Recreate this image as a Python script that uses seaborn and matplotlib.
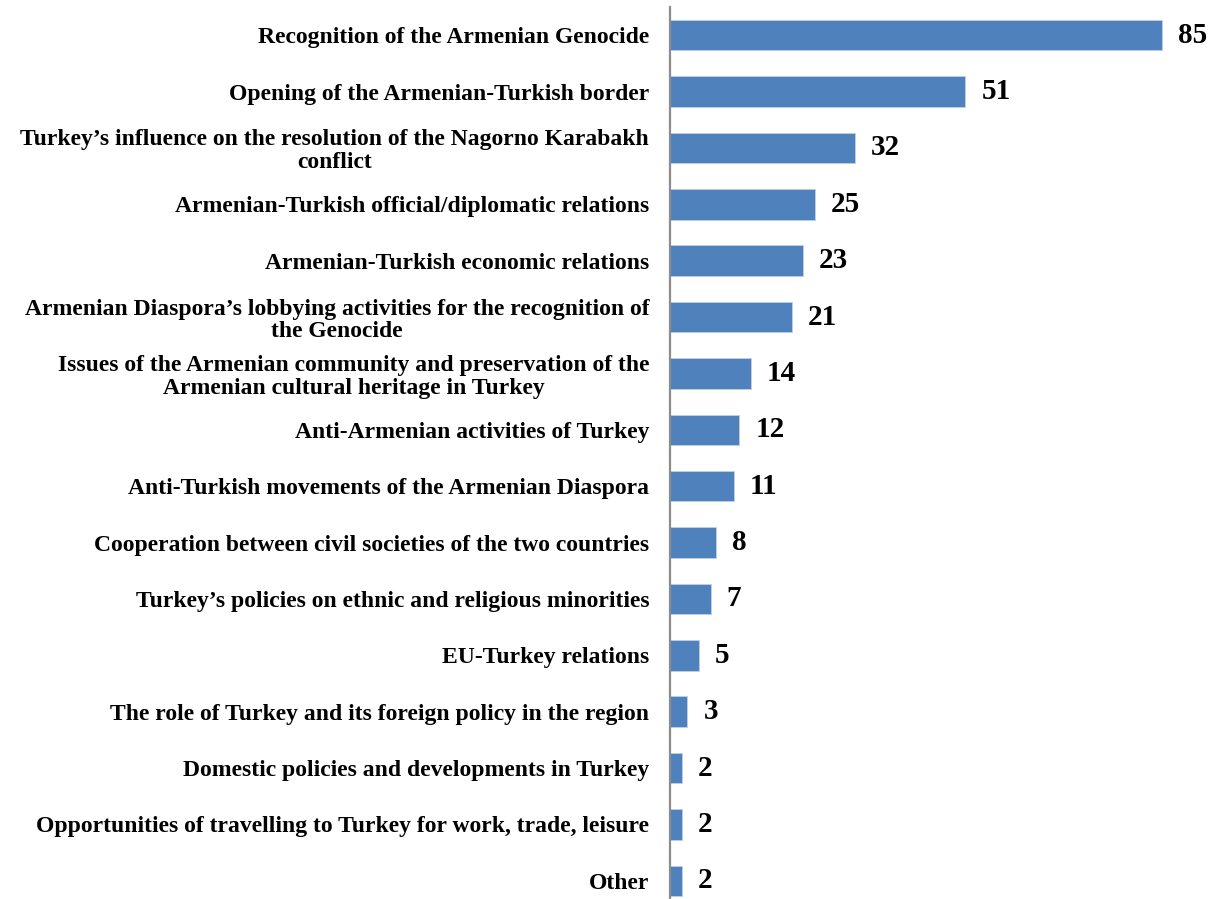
import matplotlib
matplotlib.use("Agg")
import matplotlib.pyplot as plt
import seaborn as sns
import pandas as pd

categories = [
    "Recognition of the Armenian Genocide",
    "Opening of the Armenian-Turkish border",
    "Turkey\u2019s influence on the resolution of the Nagorno Karabakh\nconflict",
    "Armenian-Turkish official/diplomatic relations",
    "Armenian-Turkish economic relations",
    "Armenian Diaspora\u2019s lobbying activities for the recognition of\nthe Genocide",
    "Issues of the Armenian community and preservation of the\nArmenian cultural heritage in Turkey",
    "Anti-Armenian activities of Turkey",
    "Anti-Turkish movements of the Armenian Diaspora",
    "Cooperation between civil societies of the two countries",
    "Turkey\u2019s policies on ethnic and religious minorities",
    "EU-Turkey relations",
    "The role of Turkey and its foreign policy in the region",
    "Domestic policies and developments in Turkey",
    "Opportunities of travelling to Turkey for work, trade, leisure",
    "Other",
]
values = [85, 51, 32, 25, 23, 21, 14, 12, 11, 8, 7, 5, 3, 2, 2, 2]

df = pd.DataFrame({"category": categories, "value": values})

sns.set_theme(style="white")
plt.rcParams["font.family"] = ["Liberation Serif", "DejaVu Serif"]
plt.rcParams["font.weight"] = "bold"

W, H = 1217, 899
fig = plt.figure(figsize=(W / 100, H / 100), dpi=100)
x0, x1 = 670, 670 + 90 * 5.79
y_top, y_bot = 7, 909
ax = fig.add_axes([x0 / W, (H - y_bot) / H, (x1 - x0) / W, (y_bot - y_top) / H])

sns.barplot(data=df, x="value", y="category", orient="h", color="#4F81BD",
            saturation=1, width=0.54, edgecolor="#BFD0E6", linewidth=0.6, ax=ax)

ax.set_xlim(0, 90)
ax.set_xlabel("")
ax.set_ylabel("")
ax.set_xticks([])
for s in ["top", "right", "bottom"]:
    ax.spines[s].set_visible(False)
ax.spines["left"].set_color("#8C8C8C")
ax.spines["left"].set_linewidth(1.6)
ax.tick_params(axis="y", length=0, pad=15)
for lab in ax.get_yticklabels():
    lab.set_fontsize(17)
    lab.set_fontweight("bold")
    lab.set_multialignment("center")
    lab.set_linespacing(1.12)
    lab.set_color("black")

ax.bar_label(ax.containers[0], labels=[str(v) for v in values], padding=11.5,
             fontsize=21, fontweight="bold", color="black")

fig.savefig("out.png", dpi=100)
